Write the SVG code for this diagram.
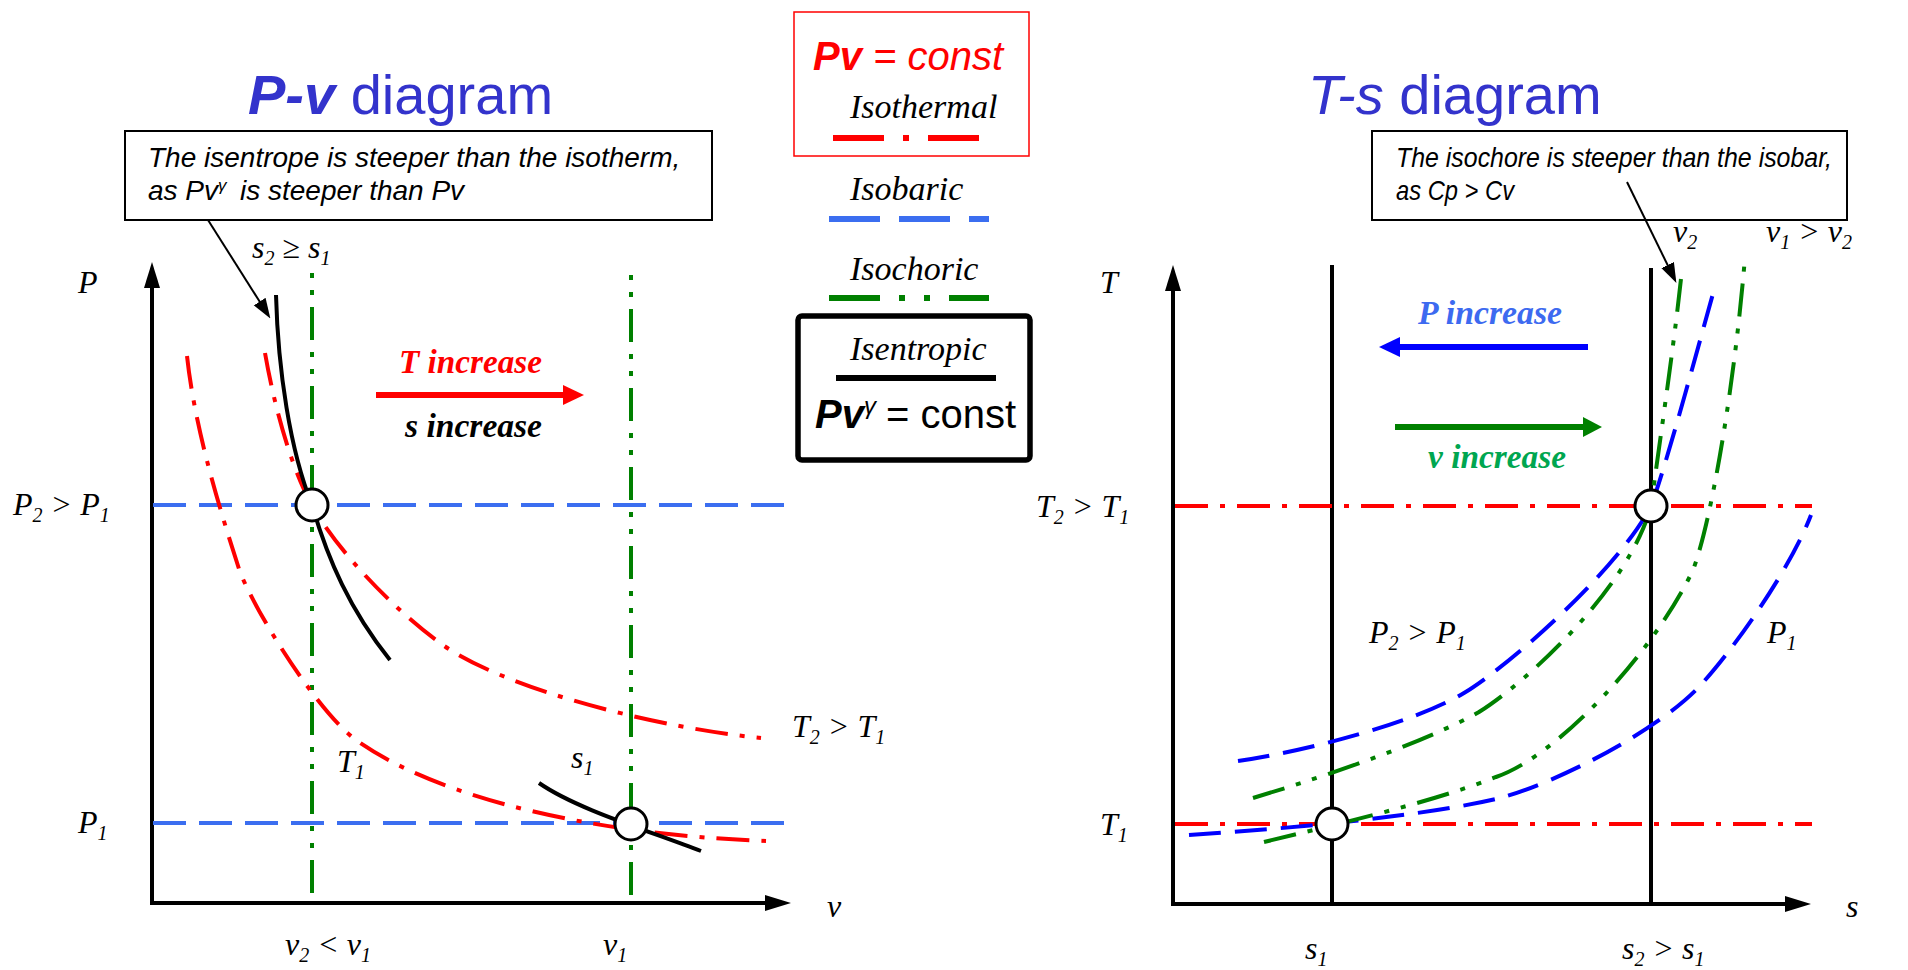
<svg xmlns="http://www.w3.org/2000/svg" width="1908" height="970" viewBox="0 0 1908 970">
<style>
.ax{stroke:#000;stroke-width:4;fill:none}
.isob{stroke:#3b6ef0;stroke-width:4;stroke-dasharray:33 13;fill:none}
.isot{stroke:#f00;stroke-width:4;stroke-dasharray:33 12 5 12;fill:none}
.isocv{stroke:#008000;stroke-width:4;stroke-dasharray:5 12 5 12 33 12;fill:none}
.isoc{stroke:#008000;stroke-width:4;stroke-dasharray:33 12 5 12 5 12;fill:none}
.isen{stroke:#000;stroke-width:4;fill:none}
.bp{stroke:#00f;stroke-width:4;stroke-dasharray:32 14;fill:none}
.pt{fill:#fff;stroke:#000;stroke-width:3}
.box{fill:#fff;stroke:#000;stroke-width:2}
.lbl{font-family:"Liberation Serif","Times New Roman",serif;font-style:italic;font-size:32px;fill:#000}
.sub{font-size:20px}
.note{font-family:"Liberation Sans",Arial,sans-serif;font-style:italic;font-size:28px;fill:#000}
.title{font-family:"Liberation Sans",Arial,sans-serif;font-size:56px;fill:#3333cc}
.leg{font-family:"Liberation Serif","Times New Roman",serif;font-style:italic;font-size:34px;fill:#000}
.big{font-family:"Liberation Sans",Arial,sans-serif;font-size:40px}
.bi{font-weight:bold;font-style:italic}
.inc{font-family:"Liberation Serif","Times New Roman",serif;font-style:italic;font-weight:bold;font-size:34px}
</style>
<defs>
<marker id="ah" markerUnits="userSpaceOnUse" markerWidth="28" markerHeight="16" refX="16" refY="8" orient="auto">
<path d="M0,0 L26,8 L0,16 z" fill="#000"/>
</marker>
<marker id="ch" markerUnits="userSpaceOnUse" markerWidth="20" markerHeight="16" refX="10" refY="7" orient="auto">
<path d="M0,0 L20,7 L0,14 z" fill="#000"/>
</marker>
</defs>
<rect width="1908" height="970" fill="#fff"/>

<g id="titles">
<text class="title" x="248" y="114"><tspan class="bi">P-v</tspan> diagram</text>
<text class="title" x="1308" y="114"><tspan font-style="italic">T-s</tspan> diagram</text>
</g>

<g id="note-pv">
<rect class="box" x="125" y="131" width="587" height="89"/>
<text class="note" x="148" y="167">The isentrope is steeper than the isotherm,</text>
<text class="note" x="148" y="200">as Pv<tspan font-size="17" dy="-9">γ</tspan><tspan x="240" dy="9">is steeper than Pv</tspan></text>
</g>

<g id="note-ts">
<rect class="box" x="1372" y="131" width="475" height="89"/>
<text class="note" x="1396" y="167" textLength="436" lengthAdjust="spacingAndGlyphs">The isochore is steeper than the isobar,</text>
<text class="note" x="1396" y="200" textLength="118" lengthAdjust="spacingAndGlyphs">as Cp &gt; Cv</text>
</g>

<g id="legend-isothermal">
<rect x="794" y="12" width="235" height="144" fill="#fff" stroke="#f00" stroke-width="1.5"/>
<text class="big" x="813" y="70" fill="#f00"><tspan class="bi">Pv</tspan><tspan font-style="italic"> = const</tspan></text>
<text class="leg" x="850" y="118">Isothermal</text>
<line x1="833" y1="138" x2="979" y2="138" stroke="#f00" stroke-width="6" stroke-dasharray="51 19 6 19"/>
</g>
<g id="legend-isobaric">
<text class="leg" x="850" y="200">Isobaric</text>
<line x1="829" y1="219" x2="989" y2="219" stroke="#3b6ef0" stroke-width="6" stroke-dasharray="51 19"/>
</g>
<g id="legend-isochoric">
<text class="leg" x="850" y="280">Isochoric</text>
<line x1="829" y1="298" x2="989" y2="298" stroke="#008000" stroke-width="6" stroke-dasharray="51 19 6 19 6 19"/>
</g>
<g id="legend-isentropic">
<rect x="798" y="316" width="232" height="144" rx="4" fill="#fff" stroke="#000" stroke-width="5.5"/>
<text class="leg" x="850" y="360">Isentropic</text>
<line x1="836" y1="378" x2="996" y2="378" stroke="#000" stroke-width="6"/>
<text class="big" x="815" y="428"><tspan class="bi">Pv</tspan><tspan font-style="italic" font-size="24" dy="-14">γ</tspan><tspan x="886" dy="14">= const</tspan></text>
</g>

<g id="pv-axes">
<line class="ax" x1="152" y1="903" x2="152" y2="272" marker-end="url(#ah)"/>
<line class="ax" x1="150" y1="903" x2="781" y2="903" marker-end="url(#ah)"/>
<text class="lbl" x="78" y="293">P</text>
<text class="lbl" x="827" y="917">v</text>
</g>

<g id="pv-lines">
<line class="isob" x1="153" y1="505" x2="792" y2="505"/>
<line class="isob" x1="153" y1="823" x2="792" y2="823"/>
<line class="isocv" x1="312" y1="273" x2="312" y2="903"/>
<line class="isocv" x1="631" y1="275" x2="631" y2="903"/>
<path class="isot" d="M265,353 C275,410 292,470 312,505 C335,548 393,609 440,643 C505,690 660,728 761,738"/>
<path class="isot" d="M187,356 C195,430 220,510 240,572 C259,619 320,714 356,740 C440,800 600,835 766,841"/>
<path class="isen" d="M276,295 C278,370 290,450 312,505 C328,560 350,610 390,660"/>
<path class="isen" d="M539,783 C575,808 640,828 701,851"/>
<circle class="pt" cx="312" cy="505" r="16"/>
<circle class="pt" cx="631" cy="824" r="16"/>
</g>

<g id="pv-labels">
<text class="lbl" x="13" y="515">P<tspan class="sub" dy="7">2</tspan><tspan dy="-7"> &gt; P</tspan><tspan class="sub" dy="7">1</tspan></text>
<text class="lbl" x="78" y="833">P<tspan class="sub" dy="7">1</tspan></text>
<text class="lbl" x="285" y="955">v<tspan class="sub" dy="7">2</tspan><tspan dy="-7"> &lt; v</tspan><tspan class="sub" dy="7">1</tspan></text>
<text class="lbl" x="603" y="955">v<tspan class="sub" dy="7">1</tspan></text>
<text class="lbl" x="792" y="737">T<tspan class="sub" dy="7">2</tspan><tspan dy="-7"> &gt; T</tspan><tspan class="sub" dy="7">1</tspan></text>
<text class="lbl" x="337" y="772">T<tspan class="sub" dy="7">1</tspan></text>
<text class="lbl" x="571" y="768">s<tspan class="sub" dy="7">1</tspan></text>
<text class="lbl" x="252" y="258">s<tspan class="sub" dy="7">2</tspan><tspan dy="-7"> ≥ s</tspan><tspan class="sub" dy="7">1</tspan></text>
</g>

<g id="pv-increase">
<text class="inc" x="399" y="373" fill="#f00" textLength="143" lengthAdjust="spacingAndGlyphs">T increase</text>
<line x1="376" y1="395" x2="566" y2="395" stroke="#f00" stroke-width="6"/>
<polygon points="563,385 584,395 563,405" fill="#f00"/>
<text class="inc" x="405" y="437" fill="#000" textLength="137" lengthAdjust="spacingAndGlyphs">s increase</text>
</g>

<g id="ts-axes">
<line class="ax" x1="1173" y1="904" x2="1173" y2="275" marker-end="url(#ah)"/>
<line class="ax" x1="1171" y1="904" x2="1801" y2="904" marker-end="url(#ah)"/>
<text class="lbl" x="1100" y="293">T</text>
<text class="lbl" x="1846" y="917">s</text>
</g>

<g id="ts-lines">
<line class="ax" x1="1332" y1="265" x2="1332" y2="904"/>
<line class="ax" x1="1651" y1="268" x2="1651" y2="904"/>
<line class="isot" x1="1175" y1="506" x2="1812" y2="506"/>
<line class="isot" x1="1175" y1="824" x2="1812" y2="824"/>
<path class="bp" d="M1238,761 C1300,752 1410,725 1464,693 C1513,663 1619,568 1651,506 C1665,470 1700,340 1714,290"/>
<path class="bp" d="M1189,835 C1300,828 1430,815 1500,798 C1556,783 1653,733 1696,690 C1730,655 1790,570 1811,515"/>
<path class="isoc" d="M1253,798 C1310,781 1420,745 1479,712 C1527,682 1629,588 1651,506 C1660,440 1676,330 1682,269"/>
<path class="isoc" d="M1264,842 C1330,826 1430,803 1496,777 C1560,755 1655,650 1693,570 C1712,520 1735,380 1745,257"/>
<circle class="pt" cx="1651" cy="506" r="16"/>
<circle class="pt" cx="1332" cy="824" r="16"/>
</g>

<g id="ts-labels">
<text class="lbl" x="1036" y="517">T<tspan class="sub" dy="7">2</tspan><tspan dy="-7"> &gt; T</tspan><tspan class="sub" dy="7">1</tspan></text>
<text class="lbl" x="1100" y="835">T<tspan class="sub" dy="7">1</tspan></text>
<text class="lbl" x="1305" y="959">s<tspan class="sub" dy="7">1</tspan></text>
<text class="lbl" x="1622" y="959">s<tspan class="sub" dy="7">2</tspan><tspan dy="-7"> &gt; s</tspan><tspan class="sub" dy="7">1</tspan></text>
<text class="lbl" x="1369" y="643">P<tspan class="sub" dy="7">2</tspan><tspan dy="-7"> &gt; P</tspan><tspan class="sub" dy="7">1</tspan></text>
<text class="lbl" x="1767" y="643">P<tspan class="sub" dy="7">1</tspan></text>
<text class="lbl" x="1673" y="242">v<tspan class="sub" dy="7">2</tspan></text>
<text class="lbl" x="1766" y="242">v<tspan class="sub" dy="7">1</tspan><tspan dy="-7"> &gt; v</tspan><tspan class="sub" dy="7">2</tspan></text>
</g>

<g id="ts-increase">
<text class="inc" x="1418" y="324" fill="#3d6af0" textLength="144" lengthAdjust="spacingAndGlyphs">P increase</text>
<line x1="1588" y1="347" x2="1396" y2="347" stroke="#00f" stroke-width="6"/>
<polygon points="1400,337 1379,347 1400,357" fill="#00f"/>
<line x1="1395" y1="427" x2="1586" y2="427" stroke="#008000" stroke-width="6"/>
<polygon points="1583,417 1602,427 1583,437" fill="#008000"/>
<text class="inc" x="1428" y="468" fill="#00a650" textLength="138" lengthAdjust="spacingAndGlyphs">v increase</text>
</g>

<g id="connectors">
<line x1="208" y1="220" x2="265" y2="310" stroke="#000" stroke-width="2" marker-end="url(#ch)"/>
<line x1="1627" y1="182" x2="1672" y2="274" stroke="#000" stroke-width="2" marker-end="url(#ch)"/>
</g>
</svg>
